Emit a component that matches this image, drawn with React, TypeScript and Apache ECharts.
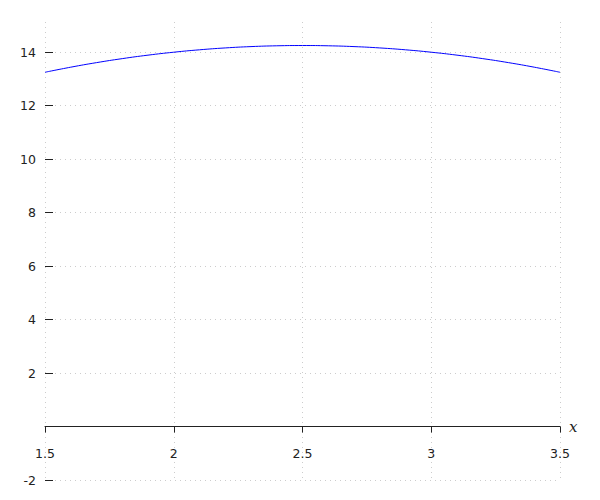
import React, { useEffect, useRef } from "react";
import * as echarts from "echarts";

const xValues = [1.5, 1.6, 1.7, 1.8, 1.9, 2.0, 2.1, 2.2, 2.3, 2.4, 2.5, 2.6, 2.7, 2.8, 2.9, 3.0, 3.1, 3.2, 3.3, 3.4, 3.5];
const yValues = [13.25, 13.44, 13.61, 13.76, 13.89, 14.0, 14.09, 14.16, 14.21, 14.24, 14.25, 14.24, 14.21, 14.16, 14.09, 14.0, 13.89, 13.76, 13.61, 13.44, 13.25];
const yTickValues = [-2, 0, 2, 4, 6, 8, 10, 12, 14];
const yLabelValues = [-2, 2, 4, 6, 8, 10, 12, 14];

export default function App() {
  const ref = useRef<HTMLDivElement>(null);
  useEffect(() => {
    if (!ref.current) return;
    const chart = echarts.init(ref.current, undefined, { renderer: "svg" });
    const textColor = "#222";
    chart.setOption({
      animation: false,
      grid: { left: 45, right: 40, top: 22, bottom: 20, containLabel: false, outerBoundsMode: "none" },
      xAxis: {
        type: "value",
        min: 1.5,
        max: 3.5,
        interval: 0.5,
        name: "x",
        nameLocation: "end",
        nameGap: 9,
        nameTextStyle: { fontFamily: "DejaVu Serif", fontStyle: "italic", fontSize: 15, color: textColor },
        axisLine: { show: true, onZero: true, lineStyle: { color: "#222", width: 1 } },
        axisTick: { show: true, inside: false, length: 6, lineStyle: { color: "#222" } },
        axisLabel: { margin: -33, fontFamily: "DejaVu Sans", fontSize: 12.5, color: textColor },
        splitLine: { show: true, lineStyle: { color: "#ccc", type: [1, 4], width: 1 } },
      },
      yAxis: {
        type: "value",
        min: -2,
        max: 15.13,
        interval: 2,
        axisLine: { show: false },
        axisTick: { show: true, inside: true, length: 8, customValues: yTickValues, lineStyle: { color: "#222" } },
        axisLabel: { margin: 9, fontFamily: "DejaVu Sans", fontSize: 12.5, color: textColor, customValues: yLabelValues },
        splitLine: { show: true, lineStyle: { color: "#ccc", type: [1, 4], width: 1 } },
      },
      series: [
        {
          type: "line",
          data: xValues.map((x, i) => [x, yValues[i]]),
          showSymbol: false,
          smooth: true,
          lineStyle: { color: "#0000ff", width: 1 },
          itemStyle: { color: "#0000ff" },
        },
      ],
    });
    return () => chart.dispose();
  }, []);
  return <div ref={ref} style={{ width: 600, height: 500, position: "absolute", left: 0, top: 0 }} />;
}
